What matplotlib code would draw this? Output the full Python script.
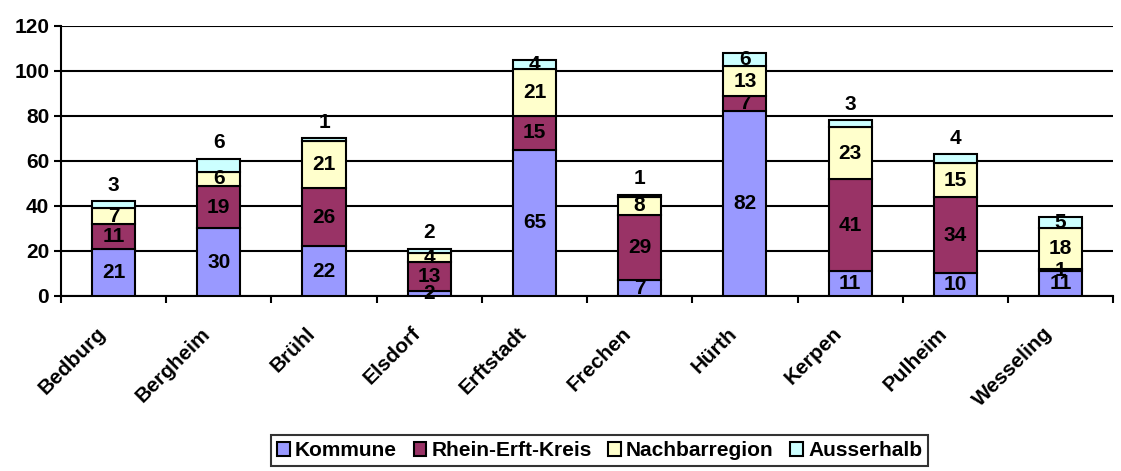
import numpy as np
import matplotlib
matplotlib.use("Agg")
import matplotlib.pyplot as plt
import matplotlib.transforms as mtransforms
from matplotlib.patches import Patch

plt.rcParams['font.family'] = ['Liberation Sans', 'DejaVu Sans']
plt.rcParams['font.weight'] = 'bold'

# data
towns = ["Bedburg", "Bergheim", "Brühl", "Elsdorf", "Erftstadt",
         "Frechen", "Hürth", "Kerpen", "Pulheim", "Wesseling"]
kommune = [21, 30, 22, 2, 65, 7, 82, 11, 10, 11]
rhein_erft = [11, 19, 26, 13, 15, 29, 7, 41, 34, 1]
nachbar = [7, 6, 21, 4, 21, 8, 13, 23, 15, 18]
ausserhalb = [3, 6, 1, 2, 4, 1, 6, 3, 4, 5]

series_names = ["Kommune", "Rhein-Erft-Kreis", "Nachbarregion", "Ausserhalb"]
colors = ["#9999FF", "#993366", "#FFFFCC", "#CCFFFF"]

# Excel put some of the top labels above the bar
top_label_above = [True, True, True, True, False, True, False, True, True, False]

fs = 15

fig = plt.figure(figsize=(11.21, 4.71), dpi=100)
ax = fig.add_axes([0.0544, 0.3716, 0.9386, 0.5732])

x = np.arange(len(towns))
series = [kommune, rhein_erft, nachbar, ausserhalb]
bottom = np.zeros(len(towns))
for i, (vals, col) in enumerate(zip(series, colors)):
    vals = np.array(vals, dtype=float)
    ax.bar(x, vals, width=0.41, bottom=bottom, color=col, edgecolor='black',
           linewidth=1.5, zorder=3)
    for j, v in enumerate(vals):
        ypos = bottom[j] + v / 2
        if i == 3 and top_label_above[j]:
            ypos = bottom[j] + v + 7
        ax.text(x[j], ypos, f"{int(v)}", ha='center', va='center',
                fontsize=fs, fontweight='bold', zorder=4)
    bottom += vals

ax.set_xlim(-0.5, len(towns) - 0.5)
ax.set_ylim(0, 120)
ax.set_yticks(range(0, 121, 20))
ax.yaxis.grid(True, color='black', linewidth=1.5, zorder=0)
ax.set_axisbelow(True)
for s in ['top', 'right']:
    ax.spines[s].set_visible(False)
ax.spines['left'].set_linewidth(1.5)
ax.spines['bottom'].set_linewidth(1.5)
ax.tick_params(axis='y', labelsize=fs, width=1.5, length=5)

ax.set_xticks(np.arange(-0.5, len(towns), 1.0))
ax.set_xticklabels([])
ax.tick_params(axis='x', width=1.5, length=5)
ax.set_xticks(x, minor=True)
ax.set_xticklabels(towns, minor=True, rotation=45, ha='right',
                   rotation_mode='anchor', fontsize=fs, fontweight='bold')
ax.tick_params(axis='x', which='minor', length=0, pad=20)
shift = mtransforms.ScaledTranslation(-18 / 100, 0, fig.dpi_scale_trans)
for lab in ax.get_xticklabels(minor=True):
    lab.set_transform(lab.get_transform() + shift)

handles = [Patch(facecolor=c, edgecolor='black', linewidth=1.5) for c in colors]
leg = fig.legend(handles, series_names, loc='center', ncol=4,
                 bbox_to_anchor=(0.535, 0.043), fontsize=fs, frameon=True,
                 fancybox=False, edgecolor='black', handlelength=0.6,
                 handleheight=0.6, handletextpad=0.25, columnspacing=0.8,
                 borderpad=0.3)
leg.get_frame().set_linewidth(1.5)

fig.savefig("out.png", dpi=100)
